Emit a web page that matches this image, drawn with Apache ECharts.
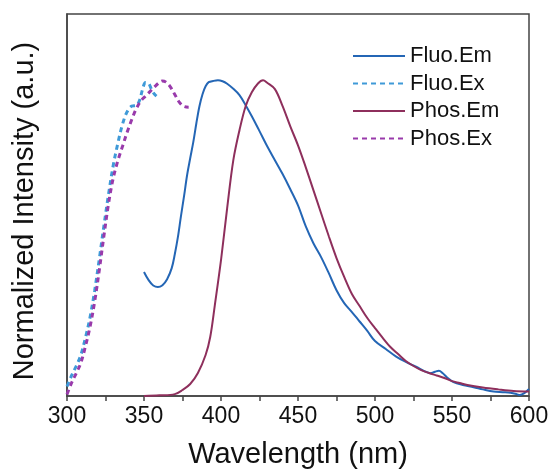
<!DOCTYPE html>
<html>
<head>
<meta charset="utf-8">
<script src="https://cdn.jsdelivr.net/npm/echarts@6/dist/echarts.min.js"></script>
<style>html,body{margin:0;padding:0;background:#fff}#c{width:552px;height:472px}</style>
</head>
<body>
<div id="c"></div>
<script>
const seriesNames = ['Fluo.Em', 'Fluo.Ex', 'Phos.Em', 'Phos.Ex'];
const xTicks = [300, 350, 400, 450, 500, 550, 600];

const fluoEmX = [350,353,356,359,362,365,368,370,372,374,376,378,380,382,384,386,388,390,392,395,398,401,404,408,412,416,420,425,430,435,440,445,450,455,460,465,470,475,480,485,490,495,500,507,514,520,527,532,536,539,541.5,544,547,551,557,564,570,577,583,588,592,594,597,600];
const fluoEmY = [0.393,0.367,0.350,0.345,0.351,0.370,0.405,0.449,0.503,0.570,0.633,0.700,0.753,0.804,0.864,0.918,0.956,0.981,0.994,0.998,1.0,0.997,0.989,0.973,0.953,0.921,0.886,0.839,0.791,0.747,0.703,0.655,0.604,0.538,0.484,0.440,0.389,0.335,0.294,0.266,0.236,0.206,0.174,0.149,0.124,0.108,0.092,0.079,0.072,0.077,0.080,0.072,0.058,0.044,0.035,0.028,0.021,0.014,0.012,0.010,0.006,0.003,0.009,0.022];

const fluoExX = [300,303,306,309,312,315,318,321,324,327,330,333,336,339,342,345,347,349,351,353,355,357,360];
const fluoExY = [0.03,0.065,0.095,0.13,0.185,0.25,0.335,0.435,0.54,0.64,0.73,0.80,0.86,0.90,0.918,0.92,0.935,0.97,0.993,0.99,0.97,0.955,0.942];

const phosEmX = [350,360,370,375,380,385,390,393,396,400,404,408,412,416,420,424,427.3,430,435,440,445,450,455,460,465,470,475,480,485,490,495,500,505,510,515,520,525,530,535,540,545,550,555,560,570,580,590,600];
const phosEmY = [0.0,0.002,0.006,0.019,0.038,0.073,0.13,0.187,0.288,0.43,0.595,0.747,0.842,0.918,0.962,0.99,1.0,0.992,0.972,0.918,0.854,0.794,0.725,0.652,0.579,0.506,0.437,0.377,0.323,0.285,0.247,0.215,0.184,0.155,0.133,0.111,0.095,0.082,0.073,0.065,0.057,0.047,0.041,0.035,0.027,0.021,0.016,0.014];

const phosExX = [300,303,306,309,312,315,318,321,324,327,330,333,336,339,342,345,348,351,354,357,360,362,364,367,370,373,376,379];
const phosExY = [0.005,0.042,0.072,0.105,0.158,0.22,0.30,0.40,0.508,0.61,0.69,0.745,0.79,0.835,0.875,0.91,0.935,0.95,0.965,0.98,0.993,0.998,0.995,0.98,0.955,0.93,0.917,0.915];

const colors = ['#2466b5', '#3f9ad8', '#8e2f5c', '#993aab'];
const pair = (xs, ys) => xs.map((x, i) => [x, ys[i]]);

const chart = echarts.init(document.getElementById('c'), null, {renderer: 'canvas'});
const font = 'Liberation Sans, Arial, sans-serif';
function line(name, xs, ys, color, dashed) {
  return {
    name, type: 'line', data: pair(xs, ys), smooth: 0.35,
    symbol: 'none', showSymbol: false,
    lineStyle: dashed ? {color, width: 3, type: [5, 4]} : {color, width: 2},
    itemStyle: {color}, z: dashed ? 3 : 2
  };
}
chart.setOption({
  animation: false,
  backgroundColor: '#fff',
  grid: {left: 67, right: 23, top: 14, bottom: 76, show: true, borderColor: '#444', borderWidth: 1.5,
    containLabel: false, outerBoundsMode: 'none'},
  legend: {
    orient: 'vertical', left: 347, top: 40, itemWidth: 52, itemHeight: 14, itemGap: 5.5,
    data: seriesNames,
    textStyle: {fontFamily: font, fontSize: 22, color: '#111', lineHeight: 22},
    itemStyle: {opacity: 0}
  },
  xAxis: {
    type: 'value', min: 300, max: 600, interval: 25,
    name: 'Wavelength (nm)', nameLocation: 'middle', nameGap: 44,
    nameTextStyle: {fontFamily: font, fontSize: 29, color: '#111'},
    axisLine: {show: true, lineStyle: {color: '#444', width: 1.5}},
    axisTick: {show: true, inside: false, length: 5, lineStyle: {color: '#444', width: 1.5}},
    axisLabel: {fontFamily: font, fontSize: 23, color: '#111', margin: 9,
      formatter: v => xTicks.includes(v) ? String(v) : ''},
    splitLine: {show: false}
  },
  yAxis: {
    type: 'value', min: 0, max: 1.21,
    name: 'Normalized Intensity (a.u.)', nameLocation: 'middle', nameGap: 28,
    nameTextStyle: {fontFamily: font, fontSize: 29, color: '#111', padding: [0, 12, 0, 0]},
    axisLine: {show: true, lineStyle: {color: '#444', width: 1.5}},
    axisTick: {show: false}, axisLabel: {show: false}, splitLine: {show: false}
  },
  series: [
    line('Fluo.Em', fluoEmX, fluoEmY, colors[0], false),
    line('Fluo.Ex', fluoExX, fluoExY, colors[1], true),
    line('Phos.Em', phosEmX, phosEmY, colors[2], false),
    line('Phos.Ex', phosExX, phosExY, colors[3], true)
  ]
});
</script>
</body>
</html>
